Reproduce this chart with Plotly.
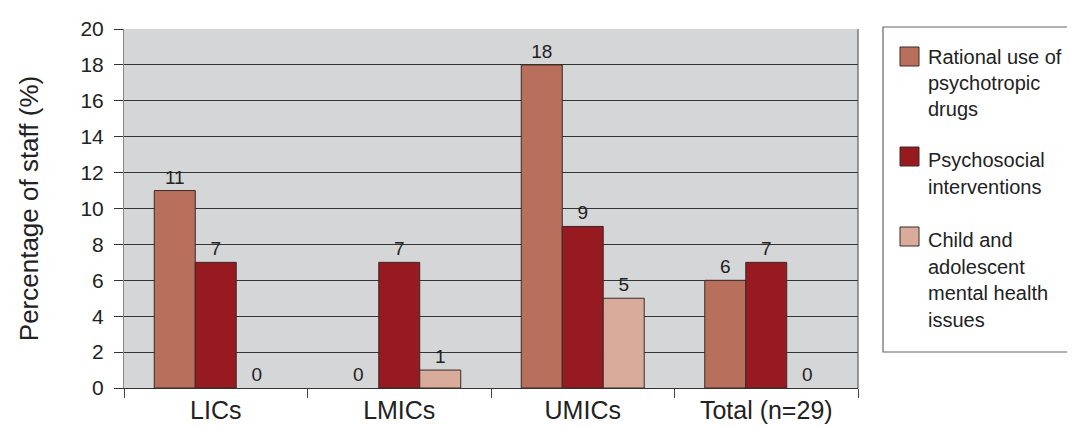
import plotly.graph_objects as go

categories = ["LICs", "LMICs", "UMICs", "Total (n=29)"]
rational = [11, 0, 18, 6]
psychosocial = [7, 7, 9, 7]
child = [0, 1, 5, 0]
series_names = ["Rational use of psychotropic drugs", "Psychosocial interventions",
                "Child and adolescent mental health issues"]
legend_lines = [["Rational use of", "psychotropic", "drugs"],
                ["Psychosocial", "interventions"],
                ["Child and", "adolescent", "mental health", "issues"]]
colors = ["#b8705d", "#961a20", "#d8ab9b"]

OFF = 8
W, H = 1075 - OFF, 427 - OFF
L, T, PW, PH = 124 - OFF, 29 - OFF, 734, 359
R = W - L - PW
B = H - T - PH


def px(x):
    return (x - OFF - L) / PW


def py(y):
    return 1 - (y - OFF - T) / PH


fig = go.Figure()
for name, vals, col in zip(series_names, [rational, psychosocial, child], colors):
    fig.add_trace(go.Bar(
        x=categories, y=vals, name=name,
        marker=dict(color=col, line=dict(color="#3a2a28",
                                         width=[0 if v == 0 else 1 for v in vals])),
        text=[str(v) for v in vals], textposition="outside",
        textfont=dict(size=19, color="#222"), cliponaxis=False,
    ))

shapes = [dict(type="line", xref="paper", yref="paper", x0=1, x1=1, y0=0, y1=1,
               line=dict(color="#444", width=1)),
          dict(type="rect", xref="paper", yref="paper", x0=px(883), x1=px(1100),
               y0=py(352), y1=py(27), line=dict(color="#666", width=1.2),
               fillcolor="white", layer="below")]
annotations = []
swatch_tops = [47, 147, 227]
line_centers = [[57, 83, 109], [160, 187], [240, 267, 293, 320]]
for col, top, lines, centers in zip(colors, swatch_tops, legend_lines, line_centers):
    shapes.append(dict(type="rect", xref="paper", yref="paper", x0=px(900), x1=px(919),
                       y0=py(top + 19), y1=py(top), fillcolor=col,
                       line=dict(color="#3a2a28", width=1)))
    for txt, c in zip(lines, centers):
        annotations.append(dict(text=txt, xref="paper", yref="paper", x=px(926), y=py(c),
                                xanchor="left", yanchor="middle", showarrow=False,
                                font=dict(size=20, color="#222")))

fig.update_layout(
    width=W, height=H, barmode="group", bargap=0.33, bargroupgap=0,
    paper_bgcolor="white", plot_bgcolor="#d5d6d8",
    margin=dict(l=L, r=R, t=T, b=B, autoexpand=False),
    font=dict(family="Liberation Sans, Arial, sans-serif", color="#222", size=18),
    showlegend=False, shapes=shapes, annotations=annotations,
)
fig.update_yaxes(range=[0, 20], dtick=2, showgrid=True, gridcolor="#333", gridwidth=1,
                 showline=True, linecolor="#888", ticks="outside", ticklen=9, tickcolor="#333",
                 ticklabelstandoff=6,
                 title=dict(text="Percentage of staff (%)", font=dict(size=26), standoff=34),
                 zeroline=False, tickfont=dict(size=21))
fig.update_xaxes(showline=True, linecolor="#333", ticks="outside", ticklen=9, tickcolor="#444",
                 tickson="boundaries", tickfont=dict(size=25))
fig.write_html("out.html")
